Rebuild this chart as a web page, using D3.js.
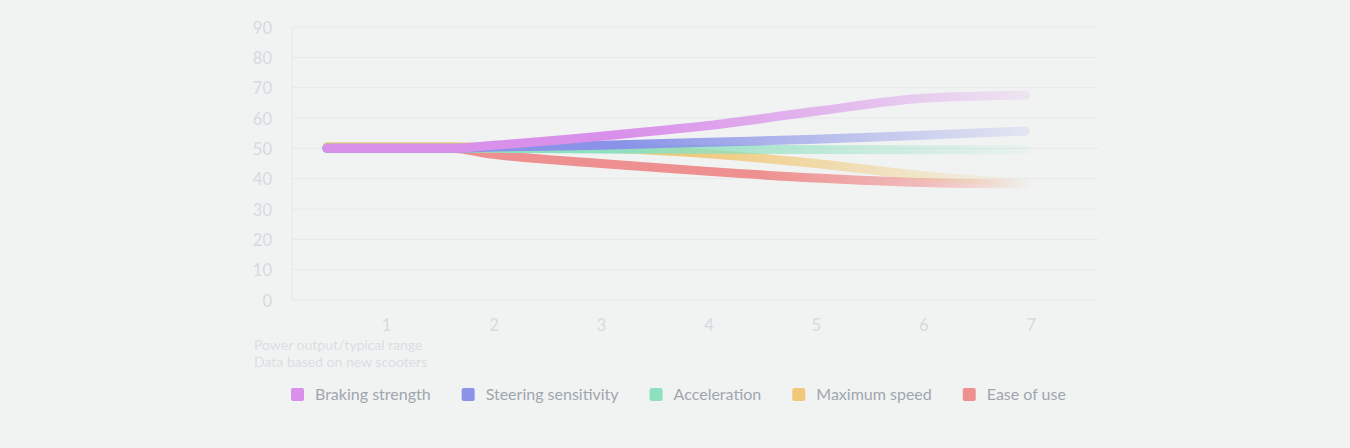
<!DOCTYPE html>
<html lang="en">
<head>
  <meta charset="UTF-8">
  <title>Scooter characteristics</title>
  <script src="https://d3js.org/d3.v7.min.js"></script>
  <style>
    html, body { margin: 0; padding: 0; background: #f1f3f2; }
    svg text { font-family: Lato, "Open Sans", sans-serif; }
  </style>
</head>
<body>
  <div id="chart"></div>

  <script>
    // x positions of the readings (power output / typical range)
    const xValues = [0.45, 1, 1.6, 2, 3, 4, 5, 6, 6.95];

    const brakingStrength     = [50, 50, 50, 51, 54, 57.5, 62.2, 66.5, 67.5];
    const steeringSensitivity = [50, 50, 50, 50.4, 51, 52, 53, 54.3, 55.7];
    const acceleration        = [50, 50, 50, 50, 49.8, 49.7, 49.6, 49.5, 49.5];
    const maximumSpeed        = [50.5, 50.5, 50.5, 50.3, 50, 48.2, 45, 41, 38.5];
    const easeOfUse           = [50, 50, 50, 48, 45, 42.4, 40.2, 38.7, 38.2];

    const seriesNames = ["Braking strength", "Steering sensitivity", "Acceleration", "Maximum speed", "Ease of use"];
    const seriesColors = ["#d990ea", "#8a93e8", "#8ee0c0", "#f0c878", "#ef9090"];

    const yTicks = [0, 10, 20, 30, 40, 50, 60, 70, 80, 90];
    const xTicks = [1, 2, 3, 4, 5, 6, 7];
    const captionLines = ["Power output/typical range", "Data based on new scooters"];

    const allSeries = [brakingStrength, steeringSensitivity, acceleration, maximumSpeed, easeOfUse];

    const width = 1350, height = 448;
    const plot = { left: 292, right: 1098, top: 27, bottom: 300 };

    const svg = d3.select("#chart").append("svg")
      .attr("width", width)
      .attr("height", height);

    const x = d3.scaleLinear()
      .domain([0.125, 7.625])
      .range([plot.left, plot.right]);

    const y = d3.scaleLinear()
      .domain([0, 90])
      .range([plot.bottom, plot.top]);

    // grid lines
    svg.append("g")
      .selectAll("line")
      .data(yTicks)
      .join("line")
      .attr("x1", plot.left)
      .attr("x2", plot.right)
      .attr("y1", d => y(d))
      .attr("y2", d => y(d))
      .attr("stroke", "#e5e8e9")
      .attr("stroke-width", 1);

    // left axis line
    svg.append("line")
      .attr("x1", plot.left).attr("x2", plot.left)
      .attr("y1", y(90)).attr("y2", y(0))
      .attr("stroke", "#e3e6e8");

    // y axis labels
    const yAxis = svg.append("g")
      .attr("transform", "translate(" + (plot.left - 20) + ",1)")
      .call(d3.axisLeft(y).tickValues(yTicks).tickSize(0).tickPadding(0));
    yAxis.select(".domain").remove();
    yAxis.selectAll("text")
      .attr("fill", "#d5dae0")
      .style("font-size", "16.5px");

    // x axis labels
    const xAxis = svg.append("g")
      .attr("transform", "translate(0," + (plot.bottom + 19) + ")")
      .call(d3.axisBottom(x).tickValues(xTicks).tickSize(0).tickPadding(0).tickFormat(d3.format("d")));
    xAxis.select(".domain").remove();
    xAxis.selectAll("text")
      .attr("fill", "#d5dae0")
      .style("font-size", "16.5px");

    // caption
    svg.append("g")
      .selectAll("text")
      .data(captionLines)
      .join("text")
      .attr("x", 254)
      .attr("y", (d, i) => 350 + i * 17)
      .attr("fill", "#dadee3")
      .style("font-size", "14px")
      .text(d => d);

    // fading gradients for each line (ease of use and max speed vanish faster)
    const fadeStops = [
      [[0, 1], [0.42, 1], [0.75, 0.55], [1, 0.15]],
      [[0, 1], [0.42, 1], [0.75, 0.5], [1, 0.15]],
      [[0, 1], [0.42, 1], [0.75, 0.45], [1, 0.08]],
      [[0, 1], [0.5, 1], [0.78, 0.45], [1, 0.04]],
      [[0, 1], [0.62, 1], [0.86, 0.55], [1, 0.02]]
    ];
    const defs = svg.append("defs");
    seriesColors.forEach((c, i) => {
      const g = defs.append("linearGradient")
        .attr("id", "fade" + i)
        .attr("gradientUnits", "userSpaceOnUse")
        .attr("x1", x(xValues[0])).attr("x2", x(xValues[xValues.length - 1]))
        .attr("y1", 0).attr("y2", 0);
      fadeStops[i].forEach(s => {
        g.append("stop")
          .attr("offset", s[0])
          .attr("stop-color", c)
          .attr("stop-opacity", s[1]);
      });
    });

    const line = d3.line()
      .x((d, i) => x(xValues[i]))
      .y(d => y(d))
      .curve(d3.curveMonotoneX);

    // draw from bottom to top so braking strength sits on top
    const order = [4, 3, 2, 1, 0];
    svg.append("g")
      .selectAll("path")
      .data(order)
      .join("path")
      .attr("d", i => line(allSeries[i]))
      .attr("fill", "none")
      .attr("stroke", i => "url(#fade" + i + ")")
      .attr("stroke-width", 9)
      .attr("stroke-linecap", "round")
      .attr("stroke-linejoin", "round");

    // legend
    const legend = svg.append("g").attr("transform", "translate(291,388)");
    let lx = 0;
    seriesNames.forEach((name, i) => {
      const item = legend.append("g").attr("transform", "translate(" + lx + ",0)");
      item.append("rect")
        .attr("width", 13).attr("height", 13)
        .attr("rx", 2)
        .attr("fill", seriesColors[i]);
      const t = item.append("text")
        .attr("x", 24).attr("y", 12)
        .attr("fill", "#9ea6b0")
        .style("font-size", "16px")
        .text(name);
      lx += 24 + t.node().getComputedTextLength() + 31;
    });
  </script>
</body>
</html>
